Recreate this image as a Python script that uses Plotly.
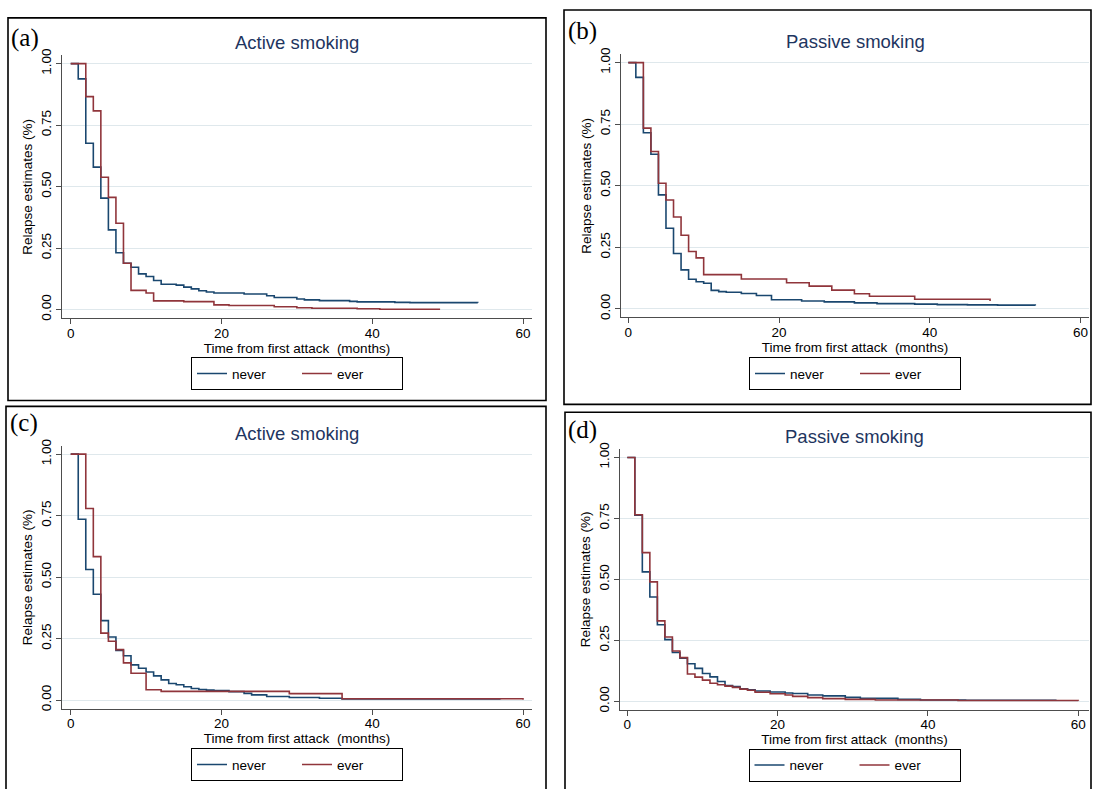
import plotly.graph_objects as go

W, H = 1094, 789

# ---------------- data ----------------
# (a) Active smoking
a_never_t = [0, 1, 2, 3, 4, 5, 6, 7, 8, 9, 10, 11, 12, 14, 15, 16, 17, 18, 19, 23, 26, 27, 30, 31, 33, 37, 38, 43, 45, 54]
a_never_s = [1.000, 0.938, 0.676, 0.579, 0.453, 0.324, 0.231, 0.188, 0.172, 0.145, 0.134, 0.118, 0.103, 0.099,
             0.091, 0.084, 0.076, 0.071, 0.067, 0.063, 0.056, 0.049, 0.043, 0.039, 0.036, 0.033, 0.031, 0.029, 0.028, 0.027]
a_ever_t = [0, 2, 3, 4, 5, 6, 7, 8, 10, 11, 15, 19, 21, 27, 30, 32, 38, 41, 49]
a_ever_s = [1.000, 0.866, 0.808, 0.538, 0.456, 0.351, 0.188, 0.078, 0.067, 0.035, 0.032, 0.019, 0.016, 0.011,
            0.007, 0.005, 0.003, 0.001, 0.001]

# (b) Passive smoking
b_never_t = [0, 1, 2, 3, 4, 5, 6, 7, 8, 9, 10, 11, 12, 13, 15, 17, 19, 23, 26, 30, 33, 38, 41, 45, 49, 54]
b_never_s = [1.000, 0.940, 0.715, 0.628, 0.463, 0.327, 0.225, 0.158, 0.120, 0.110, 0.104, 0.075, 0.070, 0.067,
             0.062, 0.054, 0.037, 0.032, 0.028, 0.024, 0.021, 0.019, 0.017, 0.016, 0.015, 0.013]
b_ever_t = [0, 2, 3, 4, 5, 6, 7, 8, 9, 10, 15, 21, 24, 27, 30, 32, 38, 48]
b_ever_s = [1.000, 0.734, 0.639, 0.510, 0.442, 0.373, 0.299, 0.233, 0.207, 0.139, 0.121, 0.106, 0.092, 0.076,
            0.061, 0.051, 0.039, 0.032]

# (c) Active smoking
c_never_t = [0, 1, 2, 3, 4, 5, 6, 7, 8, 9, 10, 11, 12, 13, 14, 15, 16, 17, 18, 19, 21, 23, 24, 26, 29, 33, 36, 57]
c_never_s = [1.000, 0.735, 0.531, 0.430, 0.323, 0.256, 0.202, 0.180, 0.143, 0.129, 0.114, 0.098, 0.082, 0.067,
             0.062, 0.054, 0.047, 0.043, 0.040, 0.038, 0.034, 0.027, 0.021, 0.014, 0.010, 0.007, 0.004, 0.003]
c_ever_t = [0, 2, 3, 4, 5, 6, 7, 8, 10, 12, 29, 36, 60]
c_ever_s = [1.000, 0.779, 0.583, 0.272, 0.239, 0.205, 0.151, 0.109, 0.042, 0.035, 0.026, 0.005, 0.001]

# (d) Passive smoking
d_never_t = [0, 1, 2, 3, 4, 5, 6, 7, 8, 9, 10, 11, 12, 13, 14, 15, 16, 17, 19, 21, 22, 24, 26, 29, 31, 36, 39, 45, 57]
d_never_s = [1.000, 0.763, 0.531, 0.428, 0.314, 0.253, 0.200, 0.177, 0.154, 0.135, 0.114, 0.100, 0.081, 0.065,
             0.060, 0.051, 0.047, 0.042, 0.038, 0.034, 0.032, 0.026, 0.022, 0.016, 0.012, 0.008, 0.005, 0.004, 0.003]
d_ever_t = [0, 1, 2, 3, 4, 5, 6, 7, 8, 9, 10, 11, 12, 13, 14, 15, 16, 17, 19, 21, 22, 24, 26, 29, 33, 44, 60]
d_ever_s = [1.000, 0.765, 0.610, 0.490, 0.330, 0.264, 0.206, 0.179, 0.112, 0.099, 0.087, 0.074, 0.068, 0.062,
            0.057, 0.050, 0.045, 0.037, 0.031, 0.026, 0.020, 0.015, 0.011, 0.008, 0.005, 0.003, 0.002]

panel_letters = ["(a)", "(b)", "(c)", "(d)"]
panel_titles = ["Active smoking", "Passive smoking", "Active smoking", "Passive smoking"]
series_names = ["never", "ever"]
x_ticks = [0, 20, 40, 60]
y_ticks = [0, 0.25, 0.5, 0.75, 1.0]
x_title = "Time from first attack \u00a0(months)"
y_title = "Relapse estimates (%)"

series = [
    (a_never_t, a_never_s, a_ever_t, a_ever_s),
    (b_never_t, b_never_s, b_ever_t, b_ever_s),
    (c_never_t, c_never_s, c_ever_t, c_ever_s),
    (d_never_t, d_never_s, d_ever_t, d_ever_s),
]

# ---------------- layout geometry (pixels) ----------------
geom = [
    dict(l=62, r=532, t=49, b=315, x0=70.7, x60=523.0, y1=57.3, y0=306.0),
    dict(l=621, r=1089, t=48, b=314, x0=628.3, x60=1080.5, y1=56.3, y0=305.3),
    dict(l=62, r=532, t=444, b=710, x0=70.7, x60=523.0, y1=452.3, y0=701.0),
    dict(l=620, r=1089, t=447, b=711, x0=627.3, x60=1078.3, y1=455.7, y0=702.3),
]
boxes = [(8, 11, 546, 398), (564, 3, 1091, 402), (6, 404, 546, 792), (565, 410, 1091, 792)]
letter_pos = [(9, 31), (566, 24), (8, 421), (566, 428)]
title_y = [36, 35, 431, 434]
legend_y = [371, 371, 766.5, 767]

NAVY = "#1a476f"
MAROON = "#90353b"
FONT = "Liberation Sans, Arial, sans-serif"
GRID = "#dfe8ec"
AXC = "#4d4d4d"

fig = go.Figure()
layout = dict(
    width=W, height=H, margin=dict(l=0, r=0, t=0, b=0),
    paper_bgcolor="white", plot_bgcolor="white",
    font=dict(family=FONT, size=13, color="black"),
    shapes=[], annotations=[],
)

def px2x(p):
    return p / W

def px2y(p):
    return 1 - p / H

for i, g in enumerate(geom):
    k = "" if i == 0 else str(i + 1)
    xs = (g["x60"] - g["x0"]) / 60.0
    ys = g["y0"] - g["y1"]
    xr = [(g["l"] - g["x0"]) / xs, (g["r"] - g["x0"]) / xs]
    yr = [(g["y0"] - g["b"]) / ys, (g["y0"] - g["t"]) / ys]
    leg = "legend" + k
    nt, ns, et, es = series[i]
    for name, tt, ss, col in ((series_names[0], nt, ns, NAVY), (series_names[1], et, es, MAROON)):
        fig.add_trace(go.Scatter(
            x=tt, y=ss, mode="lines", name=name,
            line=dict(shape="hv", color=col, width=1.6),
            xaxis="x" + k, yaxis="y" + k, legend=leg, showlegend=True,
            hoverinfo="skip",
        ))
    layout["xaxis" + k] = dict(
        domain=[px2x(g["l"]), px2x(g["r"])], range=xr, anchor="y" + k,
        tickvals=x_ticks, ticks="outside", ticklen=5, tickcolor=AXC, tickwidth=1,
        showline=True, linecolor=AXC, linewidth=1, showgrid=False, zeroline=False,
        ticklabelstandoff=-3,
        tickfont=dict(size=13.5, family=FONT, color="black"),
        title=dict(text=x_title, font=dict(size=13.5, family=FONT, color="black"), standoff=0),
        fixedrange=True,
    )
    layout["yaxis" + k] = dict(
        domain=[px2y(g["b"]), px2y(g["t"])], range=yr, anchor="x" + k,
        tickvals=y_ticks, tickformat=".2f", tickangle=-90,
        ticks="outside", ticklen=5, tickcolor=AXC, tickwidth=1,
        showline=True, linecolor=AXC, linewidth=1, showgrid=True, gridcolor=GRID, gridwidth=1.3,
        zeroline=False,
        tickfont=dict(size=13.5, family=FONT, color="black"),
        title=dict(text=y_title, font=dict(size=13.5, family=FONT, color="black"), standoff=2),
        fixedrange=True,
    )
    layout[leg] = dict(
        x=px2x((g["l"] + g["r"]) / 2), y=px2y(legend_y[i]), xanchor="center", yanchor="middle",
        orientation="h", bordercolor="black", borderwidth=1, bgcolor="white",
        font=dict(size=13.5, family=FONT, color="black"),
        entrywidth=60, entrywidthmode="pixels", itemwidth=30,
    )
    x0b, y0b, x1b, y1b = boxes[i]
    layout["shapes"].append(dict(type="rect", xref="paper", yref="paper",
                                 x0=px2x(x0b), x1=px2x(x1b), y0=px2y(y1b), y1=px2y(y0b),
                                 line=dict(color="black", width=1.6), fillcolor="rgba(0,0,0,0)"))
    layout["annotations"].append(dict(text=panel_titles[i], xref="paper", yref="paper",
                                      x=px2x((g["l"] + g["r"]) / 2), y=px2y(title_y[i]),
                                      xanchor="center", yanchor="middle", showarrow=False,
                                      font=dict(size=18.5, family=FONT, color="#1e3560")))
    lx, ly = letter_pos[i]
    layout["annotations"].append(dict(text=panel_letters[i], xref="paper", yref="paper",
                                      x=px2x(lx), y=px2y(ly), xanchor="left", yanchor="middle",
                                      showarrow=False,
                                      font=dict(size=25, family="Liberation Serif, Times New Roman, serif",
                                                color="black")))

fig.update_layout(**layout)
fig.write_html("out.html", config={"displayModeBar": False},
               post_script="document.body.style.margin='0px';document.body.style.overflow='hidden';")
